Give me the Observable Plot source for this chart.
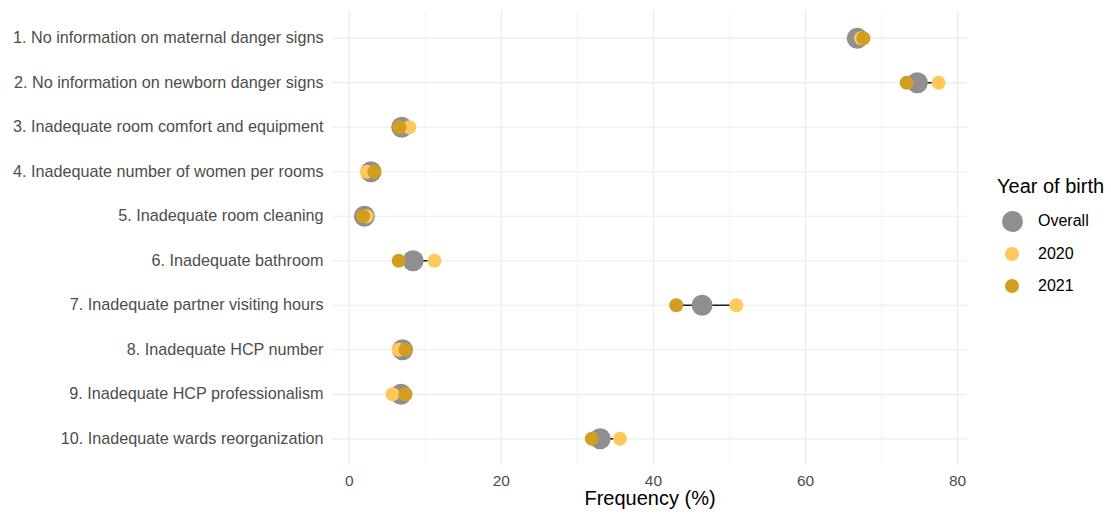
<!DOCTYPE html>
<html>
<head>
<meta charset="utf-8">
<script src="https://cdn.jsdelivr.net/npm/d3@7"></script>
<script src="https://cdn.jsdelivr.net/npm/@observablehq/plot@0.6"></script>
<style>
  html, body { margin: 0; padding: 0; background: #fff; }
  #wrap { position: relative; width: 1111px; height: 515px; font-family: "Liberation Sans", Arial, sans-serif; }
  #legend { position: absolute; left: 997px; top: 174px; color: #000; }
  #legend .title { font-size: 20px; line-height: 24px; margin-bottom: 7px; }
  #legend .item { display: flex; align-items: center; height: 32.5px; font-size: 16px; }
  #legend .sw { width: 30px; display: flex; justify-content: center; margin-right: 11px; }
  #legend .sw span { display: block; border-radius: 50%; }
</style>
</head>
<body>
<div id="wrap"><div id="chart"></div>
<div id="legend"></div></div>
<script>
const categories = [
  "1. No information on maternal danger signs",
  "2. No information on newborn danger signs",
  "3. Inadequate room comfort and equipment",
  "4. Inadequate number of women per rooms",
  "5. Inadequate room cleaning",
  "6. Inadequate bathroom",
  "7. Inadequate partner visiting hours",
  "8. Inadequate HCP number",
  "9. Inadequate HCP professionalism",
  "10. Inadequate wards reorganization"
];
const overall = [66.8, 74.7, 6.9, 2.85, 2.0, 8.4, 46.4, 7.0, 6.8, 33.0];
const y2020   = [67.3, 77.5, 7.9, 2.3, 2.3, 11.2, 50.9, 6.5, 5.7, 35.6];
const y2021   = [67.6, 73.3, 6.6, 3.3, 1.8, 6.5, 43.0, 7.4, 7.4, 31.9];
const xTicks = [0, 20, 40, 60, 80];
const xMinor = [10, 30, 50, 70];
const seriesNames = ["Overall", "2020", "2021"];
const seriesColors = ["#8f8f8f", "#fec85c", "#d19e20"];

const rows = categories.map((c, i) => ({cat: c, overall: overall[i], a: y2020[i], b: y2021[i]}));

const chart = Plot.plot({
  width: 1111,
  height: 515,
  marginLeft: 332,
  marginRight: 144,
  marginTop: 11,
  marginBottom: 50,
  style: {fontFamily: "'Liberation Sans', Arial, sans-serif", fontSize: "16px", color: "#4d4d4d", background: "#fff"},
  x: {domain: [-2.2, 81.3]},
  y: {type: "point", domain: categories, padding: 0.6, round: false},
  marks: [
    Plot.ruleX(xMinor, {stroke: "#ebebeb", strokeWidth: 0.6}),
    Plot.ruleX(xTicks, {stroke: "#ebebeb", strokeWidth: 1.2}),
    Plot.ruleY(categories, {y: d => d, stroke: "#ebebeb", strokeWidth: 1.2}),
    Plot.axisX(xTicks, {tickSize: 0, tickPadding: 9, label: null, fill: "#4d4d4d", fontSize: 15.5}),
    Plot.axisY({tickSize: 0, tickPadding: 9, label: null, fill: "#4d4d4d", fontSize: 16.2}),
    Plot.link(rows, {x1: "a", x2: "b", y1: "cat", y2: "cat", stroke: "#1a1a1a", strokeWidth: 1.6}),
    Plot.dot(rows, {x: "overall", y: "cat", r: 10.5, fill: seriesColors[0]}),
    Plot.dot(rows, {x: "a", y: "cat", r: 7, fill: seriesColors[1]}),
    Plot.dot(rows, {x: "b", y: "cat", r: 7, fill: seriesColors[2]}),
    Plot.text(["Frequency (%)"], {frameAnchor: "bottom", dy: 39, fill: "#000", fontSize: 20})
  ]
});
document.getElementById("chart").appendChild(chart);

const lg = document.getElementById("legend");
lg.innerHTML = `<div class="title">Year of birth</div>` + seriesNames.map((n, i) => {
  const d = i === 0 ? 21 : 14;
  return `<div class="item"><div class="sw"><span style="width:${d}px;height:${d}px;background:${seriesColors[i]}"></span></div>${n}</div>`;
}).join("");
</script>
</body>
</html>
